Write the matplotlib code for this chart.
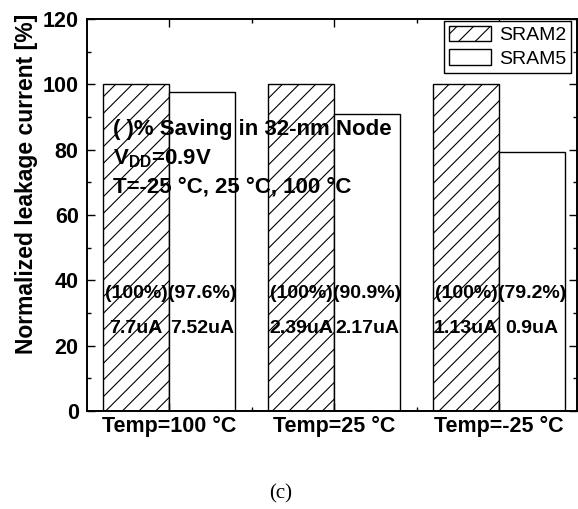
import numpy as np
import matplotlib
matplotlib.use('Agg')
import matplotlib.pyplot as plt
from matplotlib.ticker import MultipleLocator

# leakage data, normalized to SRAM2
temps = ['Temp=100 \u00b0C', 'Temp=25 \u00b0C', 'Temp=-25 \u00b0C']
sram2 = [100, 100, 100]
sram5 = [97.6, 90.9, 79.2]
sram2_ua = ['7.7uA', '2.39uA', '1.13uA']
sram5_ua = ['7.52uA', '2.17uA', '0.9uA']

FONT = ['Liberation Sans', 'DejaVu Sans']
plt.rcParams['font.family'] = FONT
plt.rcParams['mathtext.fontset'] = 'custom'
plt.rcParams['mathtext.rm'] = 'Liberation Sans:bold'
plt.rcParams['mathtext.default'] = 'rm'
plt.rcParams['hatch.linewidth'] = 0.8


def main():
    fig = plt.figure(figsize=(5.78, 5.09), dpi=100)
    ax = fig.add_axes([0.1505, 0.1925, 0.848, 0.770])

    x = np.arange(len(temps))
    w = 0.4
    ax.bar(x - w/2, sram2, w, facecolor='white', edgecolor='black',
           hatch='//', linewidth=1.0, label='SRAM2')
    ax.bar(x + w/2, sram5, w, facecolor='white', edgecolor='black',
           linewidth=1.0, label='SRAM5')

    for i in range(len(temps)):
        ax.text(x[i] - w/2, 36, '(%g%%)' % sram2[i], ha='center', va='center',
                fontsize=14, fontweight='bold')
        ax.text(x[i] + w/2, 36, '(%g%%)' % sram5[i], ha='center', va='center',
                fontsize=14, fontweight='bold')
        ax.text(x[i] - w/2, 25.3, sram2_ua[i], ha='center', va='center',
                fontsize=14, fontweight='bold')
        ax.text(x[i] + w/2, 25.3, sram5_ua[i], ha='center', va='center',
                fontsize=14, fontweight='bold')

    ax.text(-0.34, 84.4, '( )% Saving in 32-nm Node', fontsize=16,
            fontweight='bold', va='baseline')
    ax.text(-0.34, 75.6, 'V$_{DD}$=0.9V', fontsize=16,
            fontweight='bold', va='baseline')
    ax.text(-0.34, 66.8, 'T=-25 \u00b0C, 25 \u00b0C, 100 \u00b0C', fontsize=16,
            fontweight='bold', va='baseline')

    ax.set_xlim(-0.497, 2.473)
    ax.set_ylim(0, 120)
    ax.set_xticks(x)
    ax.set_xticklabels(temps, fontsize=15.5, fontweight='bold')
    ax.xaxis.set_minor_locator(MultipleLocator(0.5))
    ax.yaxis.set_major_locator(MultipleLocator(20))
    ax.yaxis.set_minor_locator(MultipleLocator(10))
    for lab in ax.get_yticklabels():
        lab.set_fontsize(15.5)
        lab.set_fontweight('bold')

    ax.tick_params(which='both', direction='in', top=True, right=True,
                   width=1.0)
    ax.tick_params(which='major', length=6)
    ax.tick_params(which='minor', length=3)
    ax.tick_params(axis='y', pad=6)
    ax.tick_params(axis='x', pad=3.5)
    for s in ax.spines.values():
        s.set_linewidth(1.4)

    ax.set_ylabel('Normalized leakage current [%]', fontsize=16.5,
                  fontweight='bold')
    ax.yaxis.set_label_coords(-0.10, 0.579)

    leg = ax.legend(loc='upper right', bbox_to_anchor=(0.988, 0.995),
                    borderaxespad=0, fontsize=14, frameon=True, fancybox=False,
                    edgecolor='black', framealpha=1, handlelength=2.2,
                    handleheight=0.85, borderpad=0.25, labelspacing=0.25,
                    handletextpad=0.4)
    leg.get_frame().set_linewidth(1.0)

    fig.text(281/578, 1 - 494/509, '(c)', ha='center', va='center',
             fontsize=15, family='Liberation Serif')

    fig.savefig('out.png', dpi=100)


if __name__ == '__main__':
    main()
